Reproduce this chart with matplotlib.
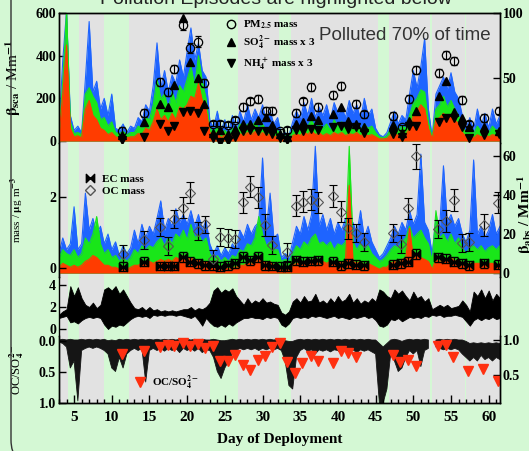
import numpy as np
import matplotlib
matplotlib.use("Agg")
import matplotlib.pyplot as plt
from matplotlib.path import Path
from matplotlib.lines import Line2D
from matplotlib.patches import FancyBboxPatch
from matplotlib.transforms import IdentityTransform

plt.rcParams["font.family"] = ["Liberation Serif", "DejaVu Serif"]
plt.rcParams["font.weight"] = "bold"
plt.rcParams["mathtext.fontset"] = "stix"
plt.rcParams["mathtext.default"] = "bf"

GREEN = "#d4f8d4"
GRAY = "#e2e2e2"
BLUE = "#1e64ff"
LGREEN = "#19e619"
RED = "#ff3c00"

# polluted periods (gray), days of deployment
polluted = [(3.0, 4.2), (5.6, 9.0), (12.3, 23.0), (26.7, 32.2), (33.8, 45.35),
            (46.8, 52.2), (52.45, 56.8), (57.0, 61.5)]

# time grid for the continuous records (every half day)
t = np.arange(3.0, 61.75, 0.5)

# panel 1: scattering at three wavelengths (Mm-1)
b_sca_blue = [60, 380, 610, 120, 50, 70, 40, 290, 560, 230,
              280, 150, 200, 120, 220, 60, 50, 80, 40, 70,
              60, 110, 90, 170, 140, 260, 460, 250, 330, 230,
              310, 270, 380, 300, 420, 530, 380, 460, 330, 300,
              100, 60, 140, 50, 100, 40, 120, 60, 140, 90,
              170, 100, 150, 110, 170, 90, 140, 80, 110, 30,
              40, 25, 90, 140, 100, 180, 120, 200, 110, 160,
              120, 170, 100, 180, 130, 160, 110, 190, 130, 170,
              100, 200, 120, 150, 60, 30, 20, 40, 90, 140,
              80, 120, 100, 220, 330, 250, 350, 480, 150, 20,
              220, 260, 300, 240, 320, 230, 200, 120, 60, 110,
              50, 150, 70, 130, 60, 150, 80, 120]
b_sca_green = [40, 280, 610, 90, 35, 40, 30, 220, 250, 210,
               180, 100, 110, 70, 90, 40, 35, 45, 30, 40,
               40, 70, 60, 110, 100, 170, 290, 200, 220, 150,
               230, 180, 260, 230, 290, 350, 260, 400, 280, 200,
               60, 40, 70, 35, 50, 30, 60, 40, 80, 50,
               80, 60, 90, 60, 80, 50, 70, 40, 50, 20,
               25, 20, 50, 70, 60, 90, 70, 100, 60, 80,
               60, 80, 50, 100, 70, 90, 60, 80, 60, 90,
               50, 80, 60, 70, 40, 20, 15, 25, 60, 80,
               50, 70, 60, 120, 180, 200, 240, 230, 90, 15,
               150, 170, 210, 160, 190, 150, 120, 70, 40, 60,
               35, 70, 45, 60, 40, 70, 50, 60]
b_sca_red = [30, 220, 450, 60, 20, 25, 15, 150, 190, 120,
             100, 60, 50, 30, 40, 20, 15, 20, 15, 20,
             20, 35, 30, 60, 50, 90, 150, 100, 120, 90,
             130, 100, 160, 150, 170, 210, 200, 270, 190, 150,
             40, 20, 40, 15, 30, 15, 30, 20, 35, 25,
             40, 30, 45, 25, 40, 25, 35, 20, 25, 10,
             12, 10, 25, 35, 25, 45, 30, 50, 30, 40,
             25, 35, 25, 40, 30, 40, 25, 35, 30, 40,
             25, 35, 25, 30, 20, 10, 10, 12, 30, 40,
             25, 40, 30, 60, 120, 140, 170, 150, 60, 10,
             100, 110, 130, 110, 120, 100, 80, 40, 20, 30,
             15, 30, 20, 30, 20, 30, 25, 30]

# panel 1 filter samples (ug m-3)
days1 = [11.3, 14.3, 16.4, 17.4, 18.3, 19.4, 20.4, 21.4, 22.3, 23.4,
         24.4, 25.4, 26.3, 27.4, 28.3, 29.4, 30.4, 31.3, 32.3, 33.3,
         34.4, 35.4, 36.4, 37.4, 39.4, 40.4, 41.4, 42.4, 43.4, 47.3,
         48.5, 49.4, 50.3, 53.4, 54.4, 55.4, 56.4, 57.4, 59.4, 61.4]
pm25 = [9, 23, 47, 39, 57, 91, 73, 78, 46, 15,
        15, 14, 18, 28, 32, 34, 25, 25, 9, 10,
        23, 32, 43, 28, 37, 44, np.nan, 30, 22, 21,
        12, 34, 56, 54, 68, 63, 33, 15, 19, 25]
pm25_err = [3, 3, 3, 3, 3, 4, 4, 4, 3, 2,
            2, 2, 2, 3, 3, 3, 3, 3, 2, 2,
            3, 3, 3, 3, 3, 3, 3, 3, 3, 3,
            2, 3, 3, 3, 3, 3, 3, 2, 3, 3]
so4_x3 = [6, 16, 30, 28, 45, 96, 62, 50, 30, 8,
          10, 7, 11, 15, 15, 18, 20, 14, 7, 5,
          15, 16, 21, 18, 22, 28, 17, 15, 12, 14,
          8, 17, 25, 36, 48, 24, 19, 12, 12, 9]
nh4_x3 = [2, 5, 15, 9, 13, 24, 25, 23, 9, 4,
          1, 1.5, 5, 9, 10, 9, 9, 7, 4, 2,
          10, 9, 11, 10, 12, 13, 11, 12, 8, 7,
          5, 13, 13, 16, 19, 19, 12, 3.5, 6, 7]

# panel 2: absorption at three wavelengths (Mm-1)
b_abs_blue = [10, 18, 12, 15, 34, 12, 15, 41, 22, 28,
              20, 24, 15, 20, 12, 16, 9, 14, 10, 13,
              22, 15, 25, 18, 24, 20, 28, 37, 22, 28,
              24, 33, 26, 30, 25, 32, 24, 30, 22, 27,
              15, 10, 14, 9, 13, 10, 15, 12, 22, 18,
              25, 20, 24, 26, 59, 22, 41, 18, 20, 8,
              10, 8, 16, 24, 20, 29, 22, 30, 65, 24,
              30, 22, 28, 20, 26, 22, 28, 24, 26, 20,
              32, 18, 24, 16, 12, 8, 10, 14, 18, 24,
              20, 26, 22, 32, 25, 30, 61, 26, 22, 10,
              28, 24, 55, 26, 30, 24, 28, 20, 16, 22,
              58, 20, 24, 18, 22, 30, 20, 24]
b_abs_green = [8, 12, 10, 9, 12, 8, 10, 18, 15, 20,
               29, 15, 10, 12, 8, 9, 6, 8, 6, 8,
               12, 10, 14, 12, 14, 13, 16, 18, 14, 18,
               15, 20, 18, 22, 17, 25, 18, 20, 16, 18,
               10, 7, 9, 6, 8, 6, 9, 8, 12, 11,
               15, 14, 18, 29, 20, 14, 16, 12, 12, 6,
               7, 6, 10, 14, 12, 16, 14, 18, 20, 15,
               16, 14, 16, 12, 15, 14, 16, 65, 16, 12,
               15, 12, 14, 10, 8, 6, 7, 9, 12, 14,
               13, 16, 18, 24, 18, 20, 22, 18, 15, 6,
               32, 18, 20, 16, 20, 15, 18, 13, 10, 13,
               14, 12, 14, 11, 13, 14, 12, 14]
b_abs_red = [3, 5, 4, 3, 4, 3, 4, 6, 7, 9,
             8, 6, 4, 4, 3, 3, 2, 3, 2, 3,
             4, 4, 5, 5, 6, 5, 6, 7, 6, 7,
             6, 8, 7, 9, 7, 8, 6, 7, 5, 6,
             4, 3, 3, 2, 3, 2, 3, 3, 4, 4,
             5, 5, 6, 7, 6, 5, 6, 4, 4, 2,
             3, 2, 4, 5, 5, 6, 5, 7, 6, 5,
             6, 5, 6, 5, 6, 5, 6, 45, 6, 5,
             6, 4, 5, 4, 3, 2, 3, 3, 5, 6,
             5, 7, 8, 23, 8, 9, 8, 7, 6, 2,
             7, 6, 7, 6, 8, 6, 7, 5, 4, 5,
             5, 5, 5, 4, 5, 5, 4, 5]

# panel 2 filter samples (ug m-3)
days2 = [11.45, 14.3, 16.4, 17.4, 18.3, 19.4, 20.4, 21.4, 22.4, 23.4,
         24.4, 25.4, 26.3, 27.4, 28.3, 29.4, 30.3, 31.3, 32.4, 33.3,
         34.4, 35.4, 36.4, 37.4, 39.4, 40.4, 41.4, 42.4, 43.4, 47.3,
         48.4, 49.3, 50.4, 53.3, 54.4, 55.4, 56.4, 57.4, 59.4, 61.3]
oc_mass = [0.41, 0.79, 1.15, 0.62, 1.38, 1.70, 2.12, 1.05, 1.23, 0.27,
           0.88, 0.84, 0.82, 1.85, 2.29, 1.99, 1.21, 0.65, np.nan, 0.46,
           1.76, 1.87, 1.93, 1.85, 2.03, 1.59, 1.12, 0.99, 0.74, 0.98,
           0.67, 1.68, 3.15, 1.09, 1.33, 1.92, 0.70, 0.74, 1.21, 1.84]
oc_err = [0.25, 0.25, 0.25, 0.25, 0.25, 0.3, 0.3, 0.25, 0.25, 0.25,
          0.25, 0.25, 0.25, 0.3, 0.3, 0.3, 0.3, 0.25, 0.25, 0.25,
          0.3, 0.3, 0.3, 0.3, 0.3, 0.3, 0.3, 0.25, 0.25, 0.25,
          0.25, 0.3, 0.35, 0.25, 0.3, 0.3, 0.25, 0.25, 0.3, 0.3]
ec_mass = [0.04, 0.18, 0.06, 0.06, 0.06, 0.30, 0.18, 0.13, 0.08, 0.08,
           0.04, 0.08, 0.13, 0.30, 0.22, 0.32, 0.08, 0.06, 0.04, 0.04,
           0.22, 0.18, 0.20, 0.22, 0.18, 0.08, 0.13, 0.10, 0.08, 0.10,
           0.13, 0.18, 0.41, 0.30, 0.27, 0.18, 0.13, 0.08, 0.13, 0.10]
ec_err = [0.12, 0.12, 0.12, 0.12, 0.12, 0.14, 0.12, 0.12, 0.12, 0.12,
          0.12, 0.12, 0.12, 0.14, 0.12, 0.14, 0.12, 0.12, 0.12, 0.12,
          0.12, 0.12, 0.12, 0.12, 0.12, 0.12, 0.12, 0.12, 0.12, 0.12,
          0.12, 0.12, 0.14, 0.12, 0.12, 0.12, 0.12, 0.12, 0.12, 0.12]

# panel 3: continuous ratio record, lower / upper envelope
p3_lo = [1.0, 1.1, 1.2, 0.6, 0.7, 0.5, 0.8, 1.0, 1.1, 1.0,
         1.1, 1.0, 0.4, 0.0, 0.3, 0.2, 0.4, 0.3, 0.6, 0.9,
         1.1, 1.2, 1.1, 1.2, 1.0, 1.3, 1.2, 1.3, 1.2, 1.3,
         1.3, 1.2, 1.3, 1.2, 1.1, 1.0, 1.2, 0.8, 0.3, 1.0,
         0.6, 0.3, 0.2, 0.4, 0.2, 0.5, 0.3, 0.6, 0.8, 1.0,
         1.0, 1.1, 1.0, 1.0, 0.9, 1.1, 1.0, 1.1, 1.0, 0.4,
         0.2, 0.5, 1.0, 1.1, 1.0, 1.1, 1.0, 1.2, 1.1, 1.2,
         1.1, 1.0, 1.1, 1.2, 1.0, 1.1, 1.0, 0.9, 1.1, 1.0,
         1.1, 1.2, 1.0, 1.1, 0.8, 0.3, 0.2, 0.4, 0.9, 0.8,
         1.0, 0.7, 0.9, 1.1, 1.0, 1.1, 1.0, 1.2, 1.1, 1.3,
         1.2, 1.3, 1.1, 1.2, 1.2, 1.3, 1.2, 1.1, 0.7, 0.3,
         0.8, 1.0, 0.8, 1.0, 0.9, 1.1, 0.9, 1.0]
p3_hi = [1.3, 1.6, 1.8, 3.9, 3.0, 3.8, 2.8, 2.2, 2.0, 2.4,
         1.9, 2.2, 3.6, 3.8, 3.5, 3.9, 3.2, 3.6, 3.0, 2.4,
         1.9, 1.8, 2.0, 1.7, 2.0, 1.7, 1.8, 1.6, 1.7, 1.6,
         1.7, 1.6, 1.7, 1.8, 1.8, 2.0, 1.7, 1.9, 1.8, 2.0,
         2.4, 3.5, 3.8, 3.3, 3.6, 3.4, 3.7, 3.0, 2.6, 2.2,
         2.8, 2.3, 2.6, 2.4, 2.8, 2.4, 2.5, 2.3, 2.2, 1.5,
         1.3, 1.6, 2.5, 2.8, 2.4, 3.0, 2.5, 2.6, 3.2, 2.4,
         2.6, 2.3, 2.8, 2.4, 3.0, 2.5, 2.7, 3.2, 2.4, 2.8,
         2.3, 2.6, 2.4, 2.8, 2.5, 3.6, 3.4, 3.0, 2.8, 3.6,
         3.2, 3.5, 3.0, 2.6, 3.4, 2.8, 3.0, 2.5, 2.8, 1.8,
         2.0, 2.2, 2.0, 2.2, 1.9, 2.0, 2.1, 2.6, 2.2, 1.6,
         3.4, 3.0, 3.6, 2.8, 3.5, 2.6, 3.2, 2.8]

# panel 4: continuous record (right axis), lower / upper envelope
p4_lo = [0.97, 0.95, 0.90, 0.60, 0.70, 0.13, 0.85, 0.88, 0.90, 0.88,
         0.90, 0.88, 0.85, 0.80, 0.60, 0.55, 0.75, 0.60, 0.80, 0.85,
         0.88, 0.85, 0.88, 0.40, 0.85, 0.88, 0.85, 0.88, 0.84, 0.88,
         0.85, 0.88, 0.82, 0.88, 0.85, 0.88, 0.84, 0.88, 0.82, 0.86,
         0.85, 0.75, 0.55, 0.45, 0.60, 0.70, 0.80, 0.85, 0.88, 0.86,
         0.88, 0.86, 0.88, 0.85, 0.88, 0.86, 0.88, 0.86, 0.88, 0.85,
         0.70, 0.35, 0.30, 0.75, 0.85, 0.88, 0.84, 0.86, 0.80, 0.86,
         0.84, 0.86, 0.83, 0.86, 0.85, 0.80, 0.86, 0.84, 0.86, 0.82,
         0.86, 0.84, 0.86, 0.83, 0.80, 0.10, 0.10, 0.30, 0.80, 0.70,
         0.55, 0.60, 0.75, 0.85, 0.80, 0.85, 0.62, 0.85, 0.88, np.nan,
         0.90, 0.88, 0.86, 0.88, 0.86, 0.88, 0.86, 0.80, 0.75, 0.70,
         0.75, 0.70, 0.78, 0.72, 0.75, 0.70, 0.75, 0.72]
p4_hi = [1.00, 1.01, 1.00, 1.01, 1.00, 1.00, 1.01, 1.00, 1.01, 1.00,
         1.01, 1.00, 1.01, 0.99, 1.00, 0.99, 1.01, 1.00, 1.01, 1.00,
         1.01, 1.00, 1.01, 1.00, 1.01, 1.00, 1.01, 1.00, 1.01, 1.00,
         1.01, 1.00, 1.01, 1.00, 1.01, 1.00, 1.01, 1.00, 1.01, 1.00,
         1.00, 1.01, 1.00, 0.99, 0.99, 1.00, 1.01, 1.00, 1.01, 1.00,
         1.01, 1.00, 1.01, 1.00, 1.01, 1.00, 1.01, 1.00, 1.01, 1.00,
         0.99, 0.98, 0.98, 1.00, 1.01, 1.00, 1.01, 1.00, 1.01, 1.00,
         1.01, 1.00, 1.01, 1.00, 1.01, 1.00, 1.01, 1.00, 1.01, 1.00,
         1.01, 1.00, 1.01, 1.00, 1.00, 0.95, 0.90, 0.95, 1.00, 1.01,
         1.00, 0.98, 1.00, 1.01, 1.00, 1.01, 1.00, 1.01, 1.00, np.nan,
         1.00, 1.01, 1.00, 1.01, 1.00, 1.01, 1.00, 1.00, 0.98, 0.95,
         0.96, 0.95, 0.96, 0.95, 0.96, 0.95, 0.96, 0.95]

# panel 4 filter ratio OC/SO4
days4 = [11.3, 14.3, 16.4, 17.4, 18.3, 19.4, 20.4, 21.4, 22.4, 23.4,
         24.4, 25.4, 26.3, 27.4, 28.3, 29.4, 30.3, 31.3, 32.3, 33.3,
         34.3, 35.3, 36.4, 37.4, 39.3, 40.4, 41.4, 42.4, 47.3, 48.3,
         49.3, 50.3, 53.3, 54.3, 55.3, 57.3, 59.3, 61.3]
oc_so4 = [0.21, 0.16, 0.10, 0.065, 0.08, 0.04, 0.08, 0.05, 0.12, 0.08,
          0.33, 0.32, 0.23, 0.39, 0.47, 0.31, 0.24, 0.10, 0.04, 0.34,
          0.52, 0.36, 0.25, 0.33, 0.36, 0.16, 0.20, 0.26, 0.23, 0.34,
          0.30, 0.40, 0.08, 0.065, 0.26, 0.49, 0.45, 0.64]


def shade(ax):
    for a, b in polluted:
        ax.axvspan(a, b, color=GRAY, lw=0, zorder=0)


def trace(ax, y, color, z):
    # dense instrument trace, drawn as a filled area under the record
    ax.fill_between(t, 0, y, color=color, lw=0, zorder=z)
    ax.plot(t, y, color=color, lw=0.8, zorder=z)


def band(ax, lo, hi, color):
    ax.fill_between(t, lo, hi, color=color, lw=0.6, ec=color)


fig = plt.figure(figsize=(5.29, 4.51), dpi=100, facecolor=GREEN)
L, W = 59 / 529, 441 / 529


def box(top, bot):
    return [L, (451 - bot) / 451, W, (bot - top) / 451]


ax1 = fig.add_axes(box(13, 143))
ax2 = fig.add_axes(box(143, 277))
ax3 = fig.add_axes(box(277, 336))
ax4 = fig.add_axes(box(336, 403))
ax1r = ax1.twinx()
ax2r = ax2.twinx()
ax4r = ax4.twinx()

for ax in (ax1, ax2, ax3, ax4, ax1r, ax2r, ax4r):
    ax.set_facecolor(GREEN)
    ax.set_xlim(3, 61.5)
    for s in ax.spines.values():
        s.set_linewidth(1.0)
    ax.tick_params(axis="both", which="both", direction="in", labelsize=10,
                   width=1, length=5, pad=2)
    ax.tick_params(axis="x", which="both", bottom=False, top=False, labelbottom=False)

# panel 1
shade(ax1)
trace(ax1, b_sca_blue, BLUE, 2)
trace(ax1, b_sca_green, LGREEN, 3)
trace(ax1, b_sca_red, RED, 4)
ax1.set_ylim(-9, 600)
ax1.set_yticks([0, 200, 400, 600])
ax1.spines["bottom"].set_visible(False)
ax1r.spines["bottom"].set_visible(False)
ax1r.errorbar(days1, pm25, yerr=pm25_err, fmt="o", mfc="none", mec="k", mew=0.9,
              ms=6, ecolor="k", elinewidth=0.8, capsize=2.5, zorder=5)
ax1r.plot(days1, so4_x3, "^", color="k", ms=6, zorder=6)
ax1r.plot(days1, nh4_x3, "v", color="k", ms=6, zorder=6)
ax1r.set_ylim(0, 100)
ax1r.set_yticks([50, 100])
ax1.set_ylabel(r"$\beta_{sca}$ / Mm$^{-1}$", fontsize=11)
ax1.yaxis.set_label_coords(-0.082, 0.5)
ax1.text(0.59, 0.79, "Polluted 70% of time", transform=ax1.transAxes,
         family="Liberation Sans", fontweight="normal", fontsize=13.5, color="#333333",
         zorder=7)
h1 = [Line2D([], [], ls="none", marker="o", mfc="none", mec="k", ms=6),
      Line2D([], [], ls="none", marker="^", color="k", ms=6),
      Line2D([], [], ls="none", marker="v", color="k", ms=6)]
ax1r.legend(h1, [r"PM$_{2.5}$ mass", r"SO$_4^{2-}$ mass x 3", r"NH$_4^+$ mass x 3"],
            loc="upper left", bbox_to_anchor=(0.365, 1.0), frameon=False, fontsize=8,
            handlelength=1.0, handletextpad=0.6, labelspacing=0.3, borderaxespad=0.1)

# panel 2
shade(ax2r)
trace(ax2r, b_abs_blue, BLUE, 2)
trace(ax2r, b_abs_green, LGREEN, 3)
trace(ax2r, b_abs_red, RED, 4)
ax2r.set_ylim(-2, 66.7)
ax2r.set_yticks([0, 20, 40, 60])
ax2.set_zorder(ax2r.get_zorder() + 1)
ax2.patch.set_visible(False)
bowtie = Path([(-1, -1), (0, 0), (-1, 1), (-1, -1), (1, -1), (0, 0), (1, 1), (1, -1)],
              [Path.MOVETO, Path.LINETO, Path.LINETO, Path.CLOSEPOLY,
               Path.MOVETO, Path.LINETO, Path.LINETO, Path.CLOSEPOLY])
ax2.errorbar(days2, oc_mass, yerr=oc_err, fmt="D", mfc="none", mec="#555555", mew=0.8,
             ms=5.5, ecolor="k", elinewidth=0.9, capsize=3)
ax2.errorbar(days2, ec_mass, yerr=ec_err, fmt="none", ecolor="k", elinewidth=0.9, capsize=3)
ax2.plot(days2, ec_mass, ls="none", marker=bowtie, color="k", ms=6)
ax2.set_ylim(-0.25, 3.52)
ax2.set_yticks([0, 2])
ax2.set_ylabel(r"mass / $\mu$g m$^{-3}$", fontsize=8)
ax2.yaxis.set_label_coords(-0.075, 0.5)
h2 = [Line2D([], [], ls="none", marker=bowtie, color="k", ms=6),
      Line2D([], [], ls="none", marker="D", mfc="none", mec="#555555", ms=5)]
ax2.legend(h2, ["EC mass", "OC mass"], loc="upper left", bbox_to_anchor=(0.045, 0.81),
           frameon=False, fontsize=8, handlelength=1.0, handletextpad=0.6,
           labelspacing=0.2, borderaxespad=0.1)
for ax in (ax2, ax2r):
    ax.spines["top"].set_visible(False)
    ax.spines["bottom"].set_visible(False)

# panel 3
shade(ax3)
band(ax3, p3_lo, p3_hi, "k")
ax3.set_ylim(-0.64, 4.73)
ax3.set_yticks([0, 2, 4])
ax3.spines["top"].set_visible(False)
ax3.spines["bottom"].set_visible(False)

# panel 4
shade(ax4r)
band(ax4r, p4_lo, p4_hi, "#151515")
ax4r.set_ylim(0.1, 1.057)
ax4r.set_yticks([0.5, 1.0])
ax4r.set_yticklabels(["0.5", "1.0"])
ax4.set_zorder(ax4r.get_zorder() + 1)
ax4.patch.set_visible(False)
ax4.plot(days4, oc_so4, "v", color="#ff3010", ms=7)
ax4.set_ylim(1.0, -0.08)
ax4.set_yticks([0.0, 0.5, 1.0])
ax4.set_yticklabels(["0.0", "0.5", "1.0"])
ax4.set_ylabel(r"OC/SO$_4^{2-}$", fontsize=9)
ax4.yaxis.set_label_coords(-0.075, 0.5)
ax4.legend([Line2D([], [], ls="none", marker="v", color="#ff3010", ms=7)],
           [r"OC/SO$_4^{2-}$"], loc="center left", bbox_to_anchor=(0.16, 0.30),
           frameon=False, fontsize=8, handlelength=1.0, handletextpad=0.6,
           borderaxespad=0)
for ax in (ax4, ax4r):
    ax.spines["top"].set_visible(False)
ax4.tick_params(axis="x", which="both", bottom=True, labelbottom=True, labelsize=11, pad=6)
ax4.tick_params(axis="x", which="major", length=6)
ax4.tick_params(axis="x", which="minor", length=3)
ax4.set_xticks(range(5, 61, 5))
ax4.set_xticks(range(3, 62), minor=True)
ax4.set_xlabel("Day of Deployment", fontsize=11, fontweight="bold", labelpad=6)

# text cut off at the edges of the picture
fig.text(276 / 529, 1 - 3.5 / 451, "Pollution Episodes are highlighted below",
         ha="center", va="baseline", family="Liberation Sans", fontweight="normal",
         fontsize=14, color="#222222")
fig.text(525.5 / 529, 1 - 215 / 451, r"$\beta_{abs}$ / Mm$^{-1}$", rotation=90,
         ha="center", va="center", fontsize=11)

frame = FancyBboxPatch((11, -14), 560, 490, boxstyle="round,pad=0,rounding_size=25",
                       transform=IdentityTransform(), fill=False, ec="#333333", lw=1.0)
fig.patches.append(frame)

fig.savefig("out.png", dpi=100, facecolor=GREEN)
